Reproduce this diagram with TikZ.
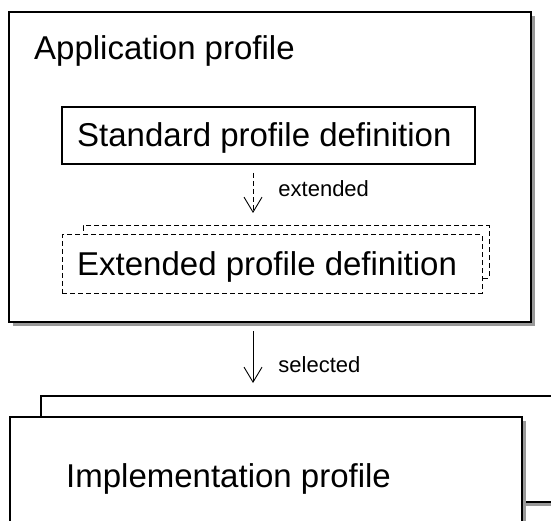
\documentclass[tikz,border=0pt]{standalone}
\usepackage{fontspec}
\setmainfont{Liberation Sans}
\usetikzlibrary{arrows.meta,positioning,shadows,calc}

\begin{document}
\begin{tikzpicture}[x=1pt,y=-1pt,
    >={Straight Barb[length=15pt,width=18pt]},
    box/.style={draw, line width=1.2pt, fill=white, anchor=north west, inner sep=0pt, outer sep=0pt},
    dbox/.style={box, line width=1pt, dash pattern=on 5pt off 3pt},
    shade/.style={drop shadow={shadow xshift=4pt, shadow yshift=-4pt, fill=black!40, opacity=1}},
    big/.style={font=\fontsize{33}{40}\selectfont, inner sep=0pt, anchor=base west},
    small/.style={font=\fontsize{22}{26}\selectfont, inner sep=0pt, anchor=base west}]
  \def\ax{253}

  \clip (0,0) rectangle (551,521);
  \coordinate (axis) at (\ax,0);

  % APPLICATION PROFILE
  \node[box, shade, minimum width=522pt, minimum height=310pt] (app) at (9,12) {};
  \node[big] (appText) at ([xshift=25pt,yshift=-48pt]app.north west) {Application profile};

  \node[box, minimum width=413pt, minimum height=57pt] (std) at (62,107) {};
  \node[big] (stdText) at ([xshift=15pt,yshift=17pt]std.south west) {Standard profile definition};

  \node[dbox, minimum width=406pt, minimum height=52pt] (extBack) at (83,226) {};
  \node[dbox, minimum width=420pt, minimum height=58pt] (ext) at (62,235) {};
  \node[big] (extText) at ([xshift=15pt,yshift=18pt]ext.south west) {Extended profile definition};

  \draw[->, line width=0.9pt, dash pattern=on 5pt off 3pt, shorten <=9pt, shorten >=13pt]
    (std.south -| axis) -- (extBack.north -| axis)
    node[small, pos=0.53, xshift=25pt] (extLabel) {extended};

  % IMPLEMENTATION PROFILE
  \node[box, shade, minimum width=600pt, minimum height=106pt] (implBack) at (41,396) {};
  \node[box, shade, minimum width=512pt, minimum height=150pt] (impl) at (10,417) {};
  \node[big] (implText) at ([xshift=56pt,yshift=-70pt]impl.north west) {Implementation profile};

  \draw[->, line width=0.9pt, shorten <=9pt, shorten >=13pt]
    (app.south -| axis) -- (implBack.north -| axis)
    node[small, pos=0.68, xshift=25pt] (selLabel) {selected};
\end{tikzpicture}
\end{document}
